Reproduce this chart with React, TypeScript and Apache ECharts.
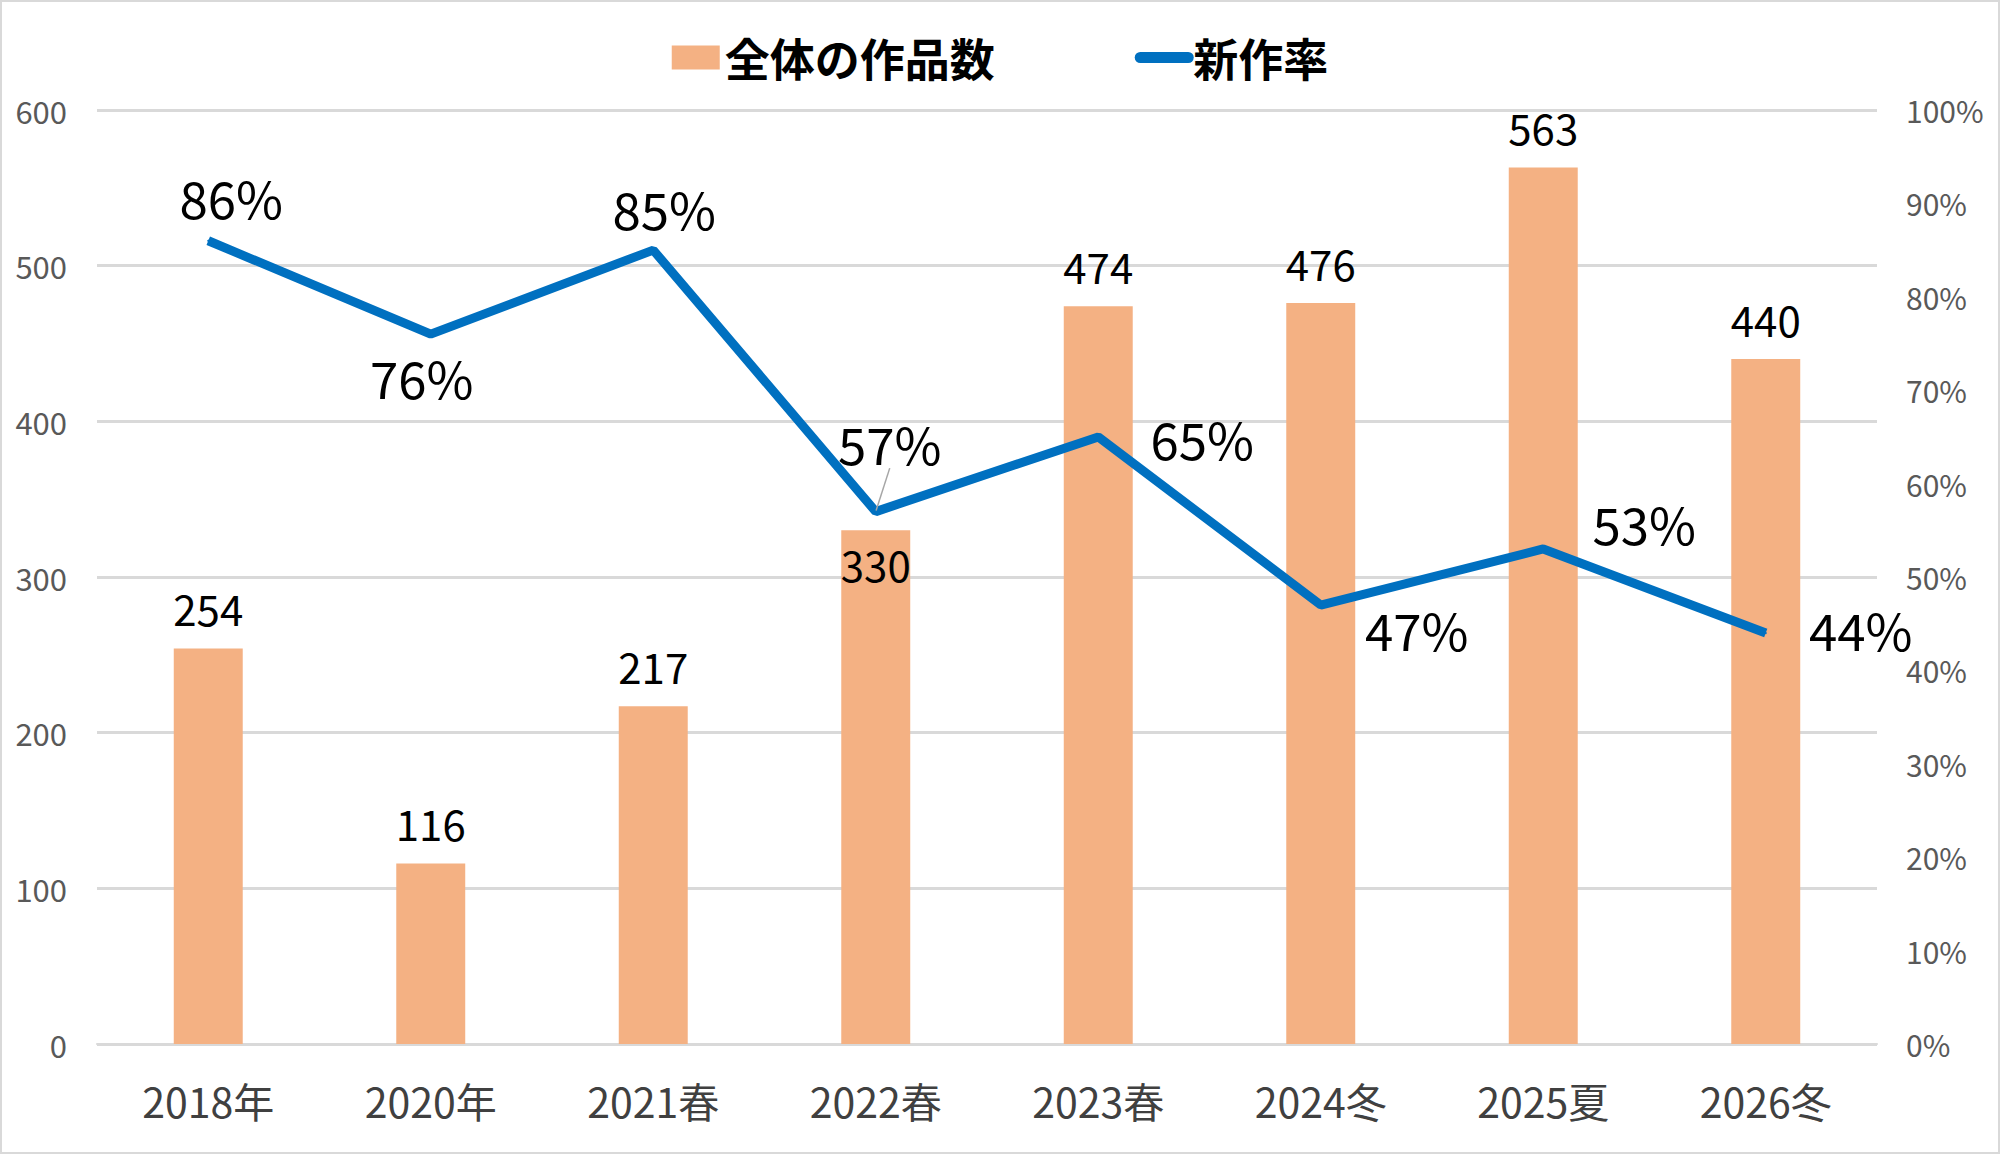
import React, { useEffect, useRef } from 'react';
import * as echarts from 'echarts';

// categories and values
const categories = ['2018年', '2020年', '2021春', '2022春', '2023春', '2024冬', '2025夏', '2026冬'];
const totalWorks = [254, 116, 217, 330, 474, 476, 563, 440];
const newRate = [0.86, 0.76, 0.85, 0.57, 0.65, 0.47, 0.53, 0.44];
// where each rate label sits relative to its point (label centre minus point)
const rateLabelOffsets = [[23, -44], [-9, 43], [11, -42], [14, -69], [104, 1], [96, 24], [101, -26], [95, -4]];
const leftTicks = { min: 0, max: 600, interval: 100 };
const rightTicks = { min: 0, max: 1, interval: 0.1 };

const FONT = '"Noto Sans CJK JP", "Noto Sans", sans-serif';

const App: React.FC = () => {
  const chartRef = useRef<HTMLDivElement>(null);

  useEffect(() => {
    if (!chartRef.current) return;
    const chart = echarts.init(chartRef.current, undefined, { renderer: 'svg' });

    const option = {
      animation: false,
      backgroundColor: '#ffffff',
      textStyle: { fontFamily: FONT },
      graphic: [
        {
          type: 'rect',
          shape: { x: 1, y: 1, width: 1998, height: 1152 },
          style: { fill: 'none', stroke: '#d9d9d9', lineWidth: 2 },
          silent: true,
        },
      ],
      legend: {
        top: 30,
        left: 'center',
        itemGap: 140,
        itemWidth: 48,
        itemHeight: 24,
        textStyle: { fontFamily: FONT, fontSize: 45, fontWeight: 'bold', color: '#000' },
        data: [
          { name: '全体の作品数', icon: 'rect' },
          { name: '新作率', lineStyle: { width: 11, cap: 'round' }, itemStyle: { opacity: 0 } },
        ],
      },
      grid: { left: 97, right: 123, top: 110, bottom: 110 },
      xAxis: {
        type: 'category',
        data: categories,
        axisLine: { lineStyle: { color: '#d9d9d9', width: 2 } },
        axisTick: { show: false },
        axisLabel: { fontFamily: FONT, fontSize: 41, color: '#404040', margin: 35 },
      },
      yAxis: [
        {
          type: 'value',
          ...leftTicks,
          axisLine: { show: false },
          axisTick: { show: false },
          splitLine: { lineStyle: { color: '#d9d9d9', width: 3 } },
          axisLabel: { fontFamily: FONT, fontSize: 31, color: '#595959', margin: 30 },
        },
        {
          type: 'value',
          ...rightTicks,
          axisLine: { show: false },
          axisTick: { show: false },
          splitLine: { show: false },
          axisLabel: {
            fontFamily: FONT,
            fontSize: 30,
            color: '#595959',
            margin: 29,
            formatter: (v: number) => `${Math.round(v * 100)}%`,
          },
        },
      ],
      series: [
        {
          name: '全体の作品数',
          type: 'bar',
          barWidth: '31%',
          itemStyle: { color: '#F4B183' },
          data: totalWorks.map((v, i) => ({
            value: v,
            label:
              i === 3
                ? { show: true, position: 'insideTop', distance: 12 }
                : { show: true, position: 'top', distance: 20 },
          })),
          label: { fontFamily: FONT, fontSize: 42, color: '#000' },
        },
        {
          name: '新作率',
          type: 'line',
          yAxisIndex: 1,
          symbol: 'circle',
          symbolSize: 2,
          itemStyle: { color: '#0070C0' },
          lineStyle: { color: '#0070C0', width: 9 },
          data: newRate.map((v, i) => ({
            value: v,
            label: { offset: rateLabelOffsets[i] },
            labelLine: { show: i === 3 },
          })),
          label: {
            show: true,
            position: 'inside',
            fontFamily: FONT,
            fontSize: 51,
            color: '#000',
            formatter: (p: any) => `${Math.round(p.value * 100)}%`,
          },
          labelLine: { lineStyle: { color: '#a6a6a6', width: 1.5 } },
        },
      ],
    };

    chart.setOption(option);
    return () => {
      chart.dispose();
    };
  }, []);

  return (
    <div
      ref={chartRef}
      style={{ position: 'fixed', left: 0, top: 0, width: '2000px', height: '1154px' }}
    />
  );
};

export default App;
